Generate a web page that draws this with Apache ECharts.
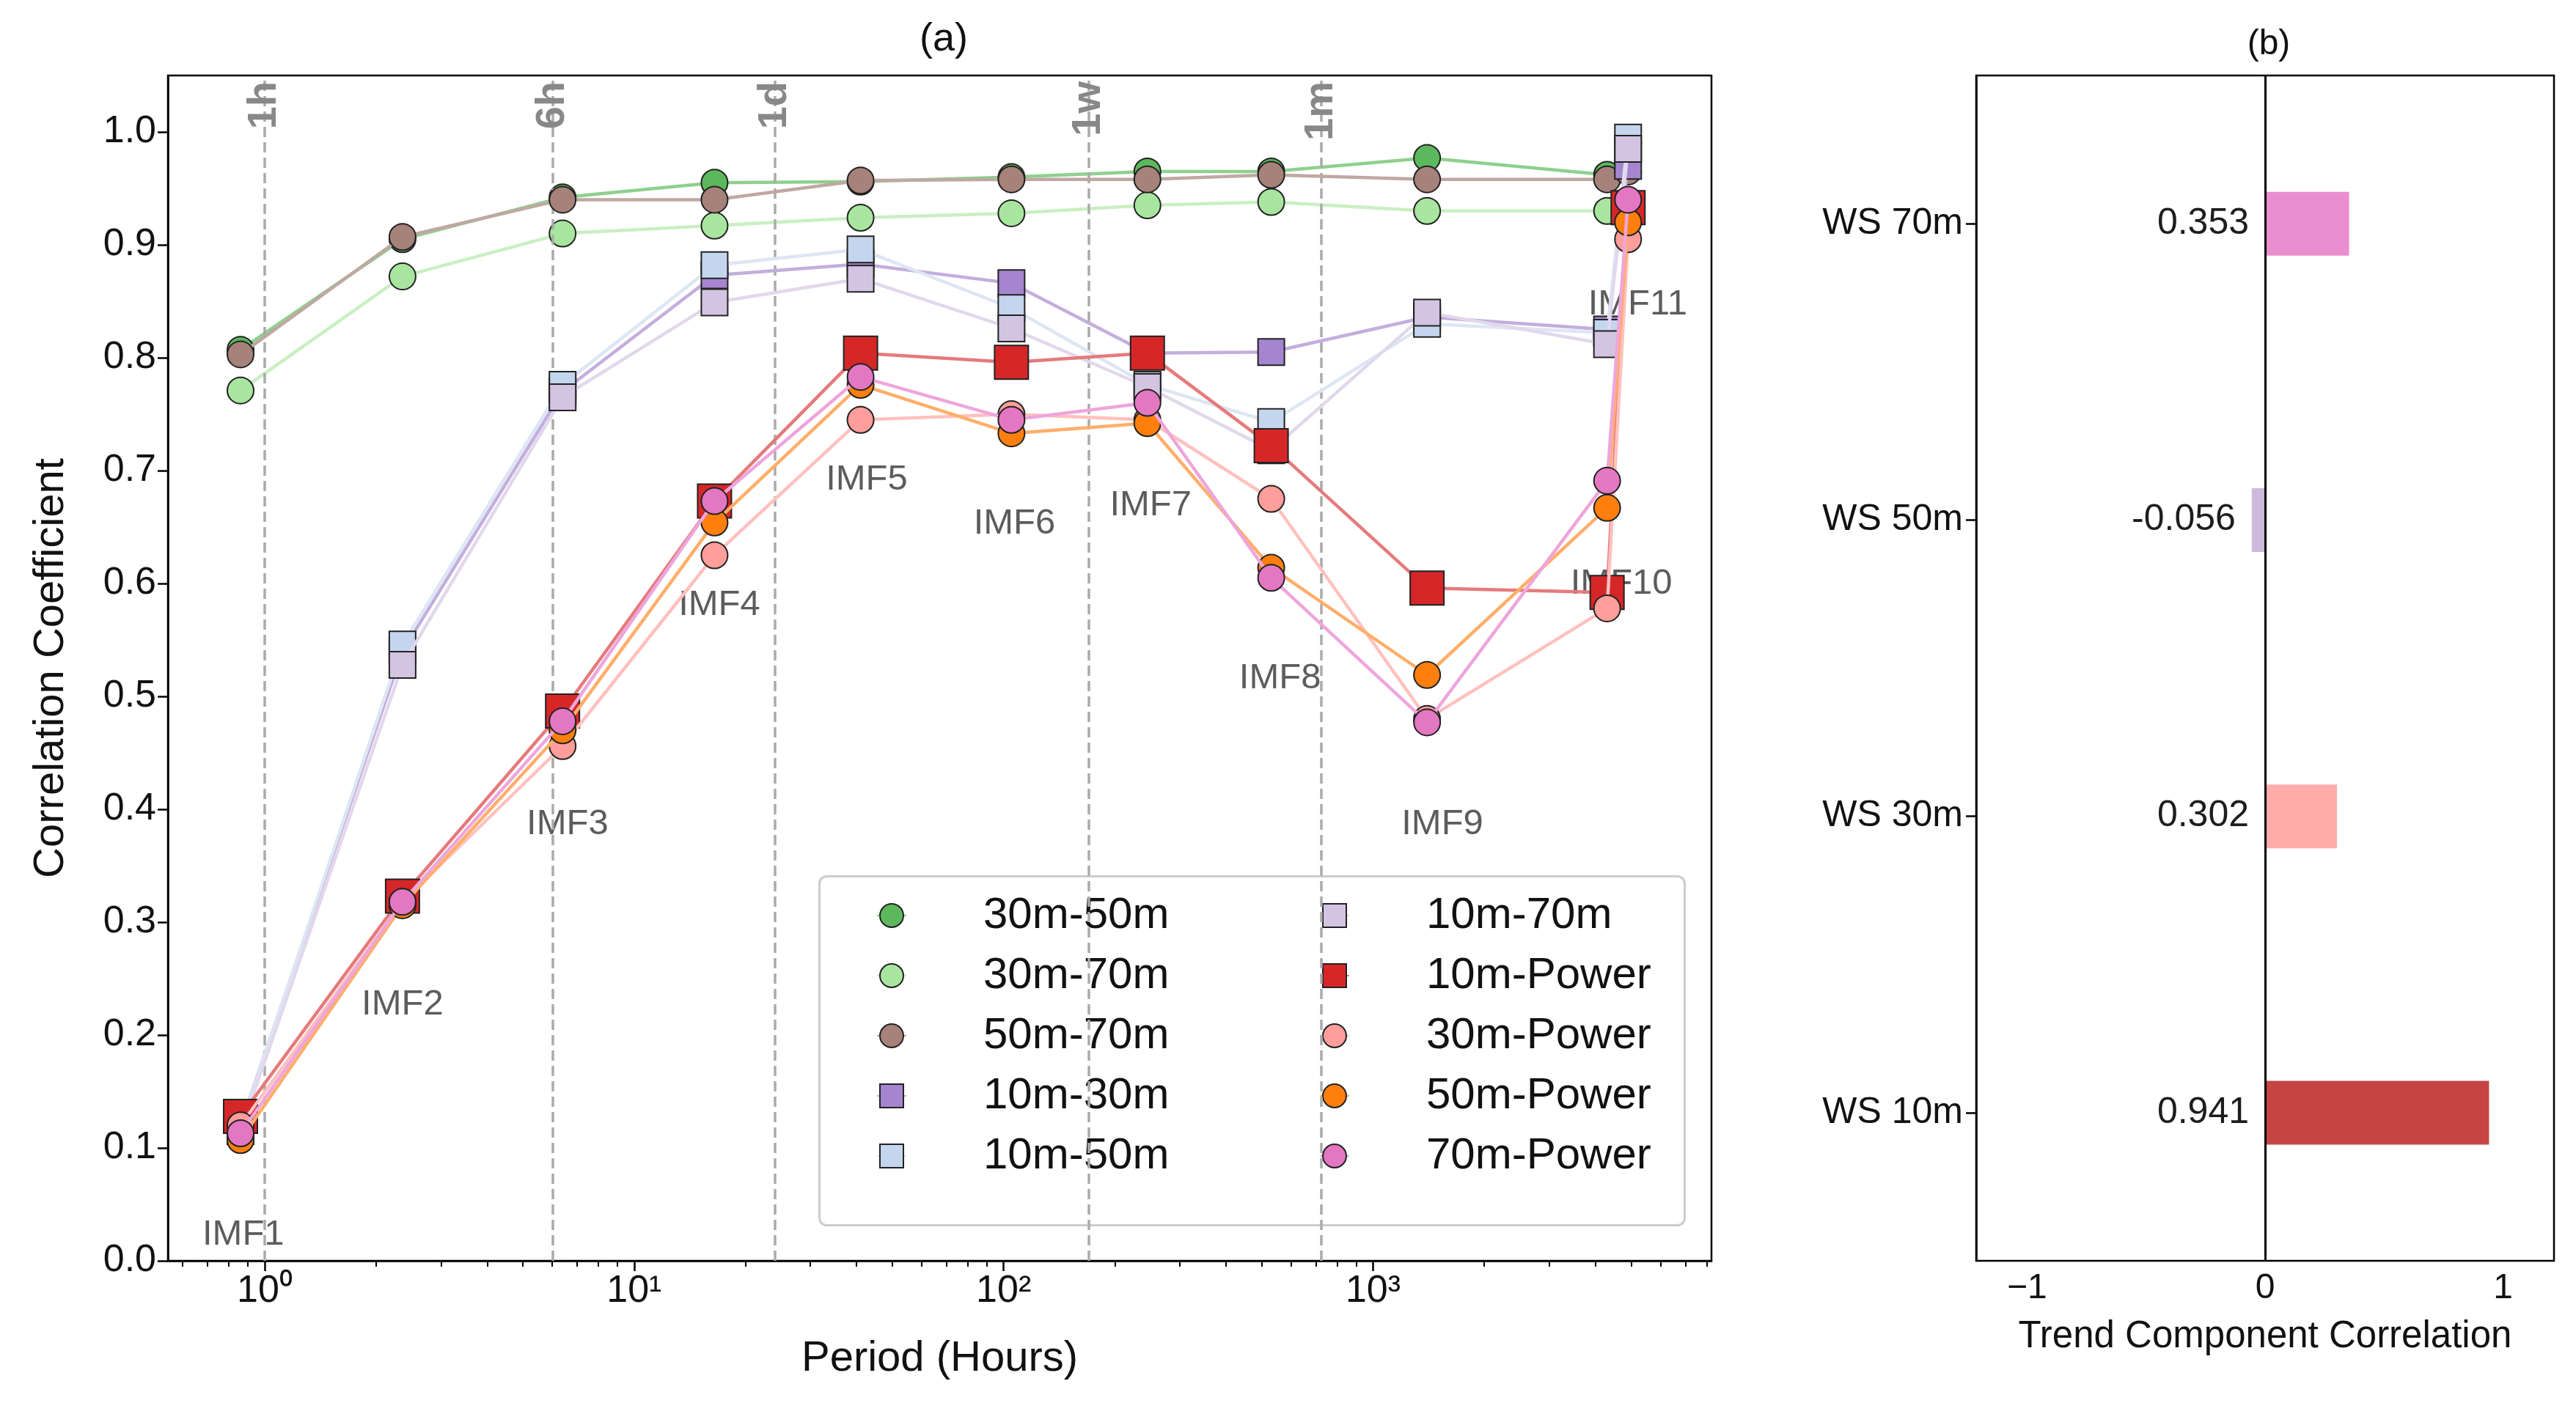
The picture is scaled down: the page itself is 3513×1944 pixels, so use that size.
<!DOCTYPE html>
<html>
<head>
<meta charset="utf-8">
<script src="https://cdn.jsdelivr.net/npm/echarts@6/dist/echarts.min.js"></script>
<style>html,body{margin:0;padding:0;background:#fff}#chart{width:3513px;height:1944px}</style>
</head>
<body>
<div id="chart"></div>
<script>
  // periods of each IMF (hours)
  var periods = [0.86, 2.36, 6.4, 16.5, 41, 105, 245, 530, 1400, 4300, 4900];
  var seriesNames = ['30m-50m', '30m-70m', '50m-70m', '10m-30m', '10m-50m', '10m-70m',
    '10m-Power', '30m-Power', '50m-Power', '70m-Power'];
  var seriesColors = ['#5cb85c', '#a8e6a0', '#a6827a', '#a585cf', '#c4d6ee', '#d3c4e2',
    '#d62728', '#ff9e9a', '#ff7f0e', '#e377c2'];
  var lineColors = ['#8fd08f', '#c9efc2', '#c0a8a2', '#c3aedd', '#dde6f4', '#e2d8ec',
    '#e67a7b', '#ffc1be', '#ffae6a', '#eea5dc'];
  var seriesSymbols = ['circle', 'circle', 'circle', 'rect', 'rect', 'rect', 'rect', 'circle', 'circle', 'circle'];
  var v3050 = [0.807, 0.905, 0.942, 0.955, 0.956, 0.960, 0.965, 0.965, 0.977, 0.962, 0.990];
  var v3070 = [0.771, 0.872, 0.910, 0.917, 0.924, 0.928, 0.935, 0.938, 0.930, 0.930, 0.930];
  var v5070 = [0.803, 0.907, 0.940, 0.940, 0.957, 0.958, 0.958, 0.962, 0.958, 0.958, 0.965];
  var v1030 = [0.120, 0.540, 0.770, 0.873, 0.883, 0.866, 0.804, 0.805, 0.836, 0.825, 0.970];
  var v1050 = [0.118, 0.546, 0.776, 0.882, 0.896, 0.844, 0.776, 0.743, 0.830, 0.822, 0.995];
  var v1070 = [0.115, 0.528, 0.765, 0.849, 0.870, 0.826, 0.774, 0.718, 0.840, 0.812, 0.985];
  var v10p = [0.128, 0.323, 0.487, 0.673, 0.804, 0.796, 0.804, 0.722, 0.596, 0.592, 0.933];
  var v30p = [0.120, 0.318, 0.456, 0.625, 0.745, 0.750, 0.745, 0.675, 0.480, 0.578, 0.905];
  var v50p = [0.107, 0.315, 0.470, 0.654, 0.776, 0.733, 0.742, 0.614, 0.519, 0.667, 0.920];
  var v70p = [0.113, 0.318, 0.478, 0.673, 0.783, 0.745, 0.760, 0.605, 0.477, 0.691, 0.940];
  var seriesValues = [v3050, v3070, v5070, v1030, v1050, v1070, v10p, v30p, v50p, v70p];

  var imfLabels = ['IMF1', 'IMF2', 'IMF3', 'IMF4', 'IMF5', 'IMF6', 'IMF7', 'IMF8', 'IMF9', 'IMF10', 'IMF11'];
  var imfLabelX = [0.875, 2.36, 6.6, 17, 42.6, 107, 250, 560, 1540, 4700, 5200];
  var imfLabelY = [0.023, 0.227, 0.387, 0.581, 0.692, 0.653, 0.669, 0.516, 0.387, 0.600, 0.847];

  var refHours = [1, 6, 24, 168, 720];
  var refNames = ['1h', '6h', '1d', '1w', '1m'];

  var trendCats = ['WS 10m', 'WS 30m', 'WS 50m', 'WS 70m'];
  var trendValues = [0.941, 0.302, -0.056, 0.353];
  var trendColors = ['#c23b3b', '#ffa8a6', '#c9b5d9', '#e889cc'];

  var font = 'Liberation Sans, Arial, sans-serif';
  var xMin = Math.log10(0.547), xMax = Math.log10(8240);
  var majorTicks = [0, 1, 2, 3];
  var minorTicks = [];
  [0.1, 1, 10, 100, 1000].forEach(function(d) {
    for (var k = 2; k <= 9; k++) {
      var t = Math.log10(k * d);
      if (t > xMin && t < xMax) minorTicks.push(t);
    }
  });
  var sup = ['⁰', '¹', '²', '³'];

  var series = seriesNames.map(function(name, i) {
    return {
      name: name,
      type: 'line',
      xAxisIndex: 0,
      yAxisIndex: 0,
      symbol: seriesSymbols[i],
      symbolSize: name === '10m-Power' ? 46 : 36,
      lineStyle: { color: lineColors[i], width: 4.5 },
      itemStyle: { color: seriesColors[i], borderColor: '#222', borderWidth: 2 },
      z: 3 + i,
      data: seriesValues[i].map(function(v, j) { return [Math.log10(periods[j]), v]; })
    };
  });
  series[0].markLine = {
    silent: true,
    symbol: 'none',
    lineStyle: { color: '#aaa', type: [14, 7], width: 3.5 },
    label: { show: true, position: 'insideEnd', color: '#888', fontWeight: 'bold', fontSize: 56, fontFamily: font, distance: 8,
      formatter: function(p) { return p.name; } },
    data: refHours.map(function(h, i) { return { name: refNames[i], xAxis: Math.log10(h) }; })
  };
  series.push({
    type: 'scatter',
    xAxisIndex: 0,
    yAxisIndex: 0,
    symbolSize: 0,
    silent: true,
    z: 2,
    label: { show: true, position: 'inside', color: '#333', fontSize: 49, fontFamily: font,
      formatter: function(p) { return imfLabels[p.dataIndex]; } },
    data: imfLabelX.map(function(x, i) { return [Math.log10(x), imfLabelY[i]]; })
  });
  series.push({
    type: 'bar',
    xAxisIndex: 2,
    yAxisIndex: 1,
    barWidth: 87,
    label: { show: true, position: 'left', distance: 22, color: '#111', fontSize: 50, fontFamily: font,
      formatter: function(p) { return p.value.toFixed(3); } },
    data: trendValues.map(function(v, i) {
      return { value: v, itemStyle: { color: trendColors[i], opacity: 0.95 } };
    }),
    markLine: {
      silent: true, symbol: 'none',
      lineStyle: { color: '#000', type: 'solid', width: 3 },
      label: { show: false },
      data: [{ xAxis: 0 }]
    }
  });

  var legendBase = {
    orient: 'vertical',
    itemWidth: 40,
    itemHeight: 40,
    itemGap: 22,
    textStyle: { fontSize: 60, fontFamily: font, color: '#111', padding: [0, 0, 0, 100] }
  };

  var chart = echarts.init(document.getElementById('chart'));
  chart.setOption({
    backgroundColor: '#fff',
    animation: false,
    textStyle: { fontFamily: font },
    title: [
      { text: '(a)', left: 1282, top: 22, textAlign: 'center', textStyle: { fontSize: 54, fontWeight: 'normal', color: '#111' } },
      { text: '(b)', left: 3089, top: 32, textAlign: 'center', textStyle: { fontSize: 48, fontWeight: 'normal', color: '#111' } }
    ],
    graphic: [{
      type: 'rect', left: 1116, top: 1194, z: 1,
      shape: { width: 1180, height: 476, r: 10 },
      style: { fill: 'rgba(255,255,255,0.85)', stroke: '#ccc', lineWidth: 3 }
    }],
    legend: [
      Object.assign({ left: 1190, top: 1214, data: seriesNames.slice(0, 5) }, legendBase),
      Object.assign({ left: 1794, top: 1214, data: seriesNames.slice(5) }, legendBase)
    ],
    grid: [
      { left: 229, right: 3513 - 2334, top: 103, bottom: 1944 - 1720, show: true, borderColor: '#000', borderWidth: 2.5 },
      { left: 2695, right: 3513 - 3483, top: 103, bottom: 1944 - 1720, show: true, borderColor: '#000', borderWidth: 2.5 }
    ],
    xAxis: [
      {
        type: 'value', gridIndex: 0, min: xMin, max: xMax, position: 'bottom',
        name: 'Period (Hours)', nameLocation: 'middle', nameGap: 105,
        nameTextStyle: { fontSize: 58, color: '#111' },
        splitLine: { show: false },
        axisLine: { onZero: false, lineStyle: { color: '#000', width: 2.5 } },
        axisTick: { customValues: majorTicks, length: 14, lineStyle: { color: '#000', width: 2.5 } },
        axisLabel: { customValues: majorTicks, fontSize: 52, color: '#111', margin: 16,
          formatter: function(v) { return '10' + sup[Math.round(v)]; } }
      },
      {
        type: 'value', gridIndex: 0, min: xMin, max: xMax, position: 'bottom',
        splitLine: { show: false },
        axisLine: { show: false, onZero: false },
        axisTick: { customValues: minorTicks, length: 8, lineStyle: { color: '#000', width: 2 } },
        axisLabel: { show: false }
      },
      {
        type: 'value', gridIndex: 1, min: -1.214, max: 1.214, position: 'bottom',
        name: 'Trend Component Correlation', nameLocation: 'middle', nameGap: 78,
        nameTextStyle: { fontSize: 51, color: '#111' },
        splitLine: { show: false },
        axisLine: { onZero: false, lineStyle: { color: '#000', width: 2.5 } },
        axisTick: { customValues: [-1, 0, 1], length: 14, lineStyle: { color: '#000', width: 2.5 } },
        axisLabel: { customValues: [-1, 0, 1], fontSize: 48, color: '#111', margin: 14,
          formatter: function(v) { return v < 0 ? '\u2212' + Math.abs(v) : String(v); } }
      }
    ],
    yAxis: [
      {
        type: 'value', gridIndex: 0, min: 0, max: 1.05, interval: 0.1,
        name: 'Correlation Coefficient', nameLocation: 'middle', nameGap: 130, nameRotate: 90,
        nameTextStyle: { fontSize: 58, color: '#111' },
        splitLine: { show: false },
        axisLine: { show: true, onZero: false, lineStyle: { color: '#000', width: 2.5 } },
        axisTick: { show: true, length: 14, lineStyle: { color: '#000', width: 2.5 } },
        axisLabel: { fontSize: 52, color: '#111', margin: 16, showMaxLabel: false,
          formatter: function(v) { return v.toFixed(1); } }
      },
      {
        type: 'category', gridIndex: 1, data: trendCats,
        axisLine: { show: true, onZero: false, lineStyle: { color: '#000', width: 2.5 } },
        axisTick: { show: true, alignWithLabel: true, length: 14, lineStyle: { color: '#000', width: 2.5 } },
        axisLabel: { fontSize: 50, color: '#111', margin: 18 }
      }
    ],
    series: series
  });
</script>
</body>
</html>
